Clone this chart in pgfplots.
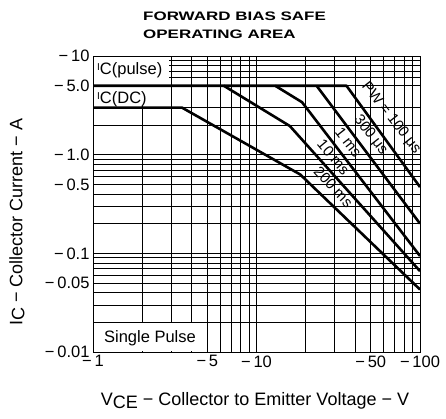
\documentclass[border=0pt]{standalone}
\usepackage{fontspec}
\setmainfont{Liberation Sans}
\usepackage{pgfplots}
\pgfplotsset{compat=1.18}
\begin{document}
\begin{tikzpicture}[x=1pt,y=1pt]
\begin{axis}[
  at={(93pt,66pt)}, anchor=south west,
  scale only axis, width=327pt, height=296pt,
  xmode=log, ymode=log,
  xmin=1, xmax=100, ymin=0.01, ymax=10,
  xtick={1,5,10,50,100},
  xticklabels={−\,1,−\,5,−\,10,−\,50,−\,100},
  ytick={0.01,0.05,0.1,0.5,1,5,10},
  yticklabels={−\,0.01,−\,0.05,−\,0.1,−\,0.5,−\,1.0,−\,5.0,−\,10},
  minor xtick={2,3,4,6,7,8,9,20,30,40,60,70,80,90},
  minor ytick={0.02,0.03,0.04,0.06,0.07,0.08,0.09,0.2,0.3,0.4,0.6,0.7,0.8,0.9,2,3,6,7,8,9},
  grid=both,
  major grid style={black, line width=0.8pt},
  minor grid style={black, line width=0.8pt},
  major tick length=0pt, minor tick length=0pt,
  axis line style={black, line width=1pt},
  tick label style={font=\fontsize{16.5}{16.5}\selectfont},
  curve/.style={black, line width=2.6pt, line join=round, line cap=butt},
]
% label boxes (white) covering grid
\fill[white] (axis cs:1.012,5.12) rectangle (axis cs:2.93,9.85);
\fill[white] (axis cs:1.012,3.1) rectangle (axis cs:2.5,4.85);
\fill[white] (axis cs:1.012,0.0102) rectangle (axis cs:4.93,0.0196);
% curves
\addplot[curve] coordinates {(1,5) (35.5,5) (100,0.47)};
\addplot[curve] coordinates {(23.3,5) (100,0.20)};
\addplot[curve] coordinates {(13,5) (19,3.4) (100,0.094)};
\addplot[curve] coordinates {(6.3,5) (16,1.95) (100,0.066)};
\addplot[curve] coordinates {(1,3) (3.5,3) (18.5,0.63) (100,0.043)};
\end{axis}
% in-plot texts
\node[anchor=base west, inner sep=0pt, font=\fontsize{16.5}{16.5}\selectfont] at (97,343) {\raisebox{4pt}{\fontsize{10}{10}\selectfont I}C(pulse)};
\node[anchor=base west, inner sep=0pt, font=\fontsize{16.5}{16.5}\selectfont] at (97,314) {\raisebox{4pt}{\fontsize{10}{10}\selectfont I}C(DC)};
\node[font=\fontsize{16.5}{16.5}\selectfont] at (150,80) {Single Pulse};
\node[rotate=-52, inner sep=1pt, font=\fontsize{15}{15}\selectfont] at (391,300) {PW = 100 μs};
\node[rotate=-52, inner sep=1pt, font=\fontsize{15}{15}\selectfont] at (370.5,283) {300 μs};
\node[rotate=-52, inner sep=1pt, font=\fontsize{15}{15}\selectfont] at (348.5,276) {1 ms};
\node[rotate=-50, inner sep=1pt, font=\fontsize{15}{15}\selectfont] at (333.5,261) {10 ms};
\node[rotate=-47, inner sep=1pt, font=\fontsize{15}{15}\selectfont] at (333.5,231) {200 ms};
% axis labels
\node[rotate=90, font=\fontsize{18}{18}\selectfont] at (17,196) {I\raisebox{-2pt}{C}\;−\;Collector Current\;−\;A};
\node[font=\fontsize{18}{18}\selectfont] at (255,17) {V\raisebox{-3pt}{CE}\;−\;Collector to Emitter Voltage\;−\;V};
% title
\node[anchor=base west, inner sep=0pt, font=\fontsize{12.3}{12.3}\selectfont\bfseries] at (143,397.3) {\scalebox{1.38}[1]{FORWARD BIAS SAFE}};
\node[anchor=base west, inner sep=0pt, font=\fontsize{12.3}{12.3}\selectfont\bfseries] at (143,379.7) {\scalebox{1.38}[1]{OPERATING AREA}};
\pgfresetboundingbox
\path[use as bounding box] (0,0) rectangle (446,418);
\end{tikzpicture}
\end{document}
